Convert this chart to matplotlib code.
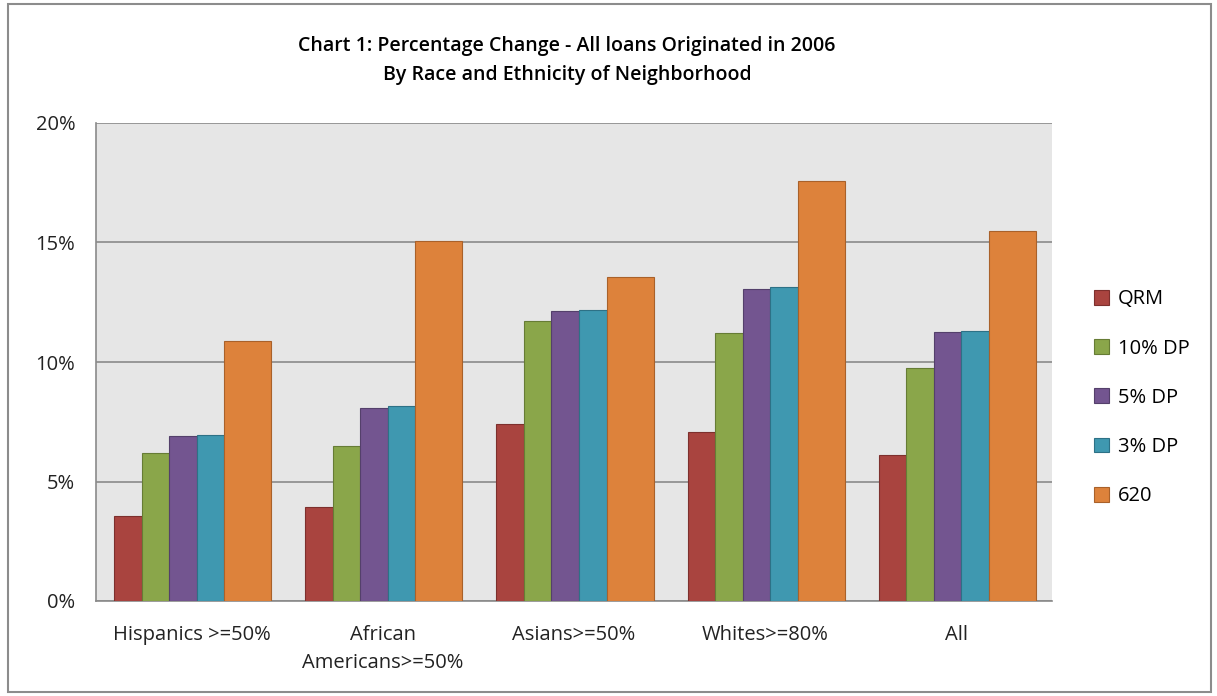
import numpy as np
import matplotlib.pyplot as plt
from matplotlib.patches import Rectangle

categories = ['Hispanics >=50%', 'African\nAmericans>=50%', 'Asians>=50%', 'Whites>=80%', 'All']
series = ['QRM', '10% DP', '5% DP', '3% DP', '620']
qrm = [3.56, 3.93, 7.41, 7.07, 6.11]
dp10 = [6.19, 6.49, 11.72, 11.21, 9.75]
dp5 = [6.90, 8.08, 12.13, 13.05, 11.26]
dp3 = [6.95, 8.16, 12.18, 13.14, 11.30]
fico620 = [10.88, 15.06, 13.56, 17.57, 15.48]
yticks = [0, 5, 10, 15, 20]
ytick_labels = ['0%', '5%', '10%', '15%', '20%']

colors = ['#A9443F', '#8AA64A', '#735590', '#3F98B0', '#DD823B']
edges = ['#7d302d', '#667c35', '#54406b', '#2d7186', '#a9612a']

plt.rcParams['font.family'] = ['Open Sans', 'DejaVu Sans']

fig = plt.figure(figsize=(12.17, 6.96), dpi=100)
fig.patches.append(Rectangle((8 / 1217, 4 / 696), 1203 / 1217, 688 / 696,
                             transform=fig.transFigure, fill=False,
                             edgecolor='#8c8c8c', linewidth=1.5))
ax = fig.add_axes([96 / 1217, 1 - 601 / 696, 956 / 1217, 478 / 696])
ax.set_facecolor('#e6e6e6')

x = np.arange(len(categories))
narrow = 0.144
wide = 0.246
start = -0.406
values = [qrm, dp10, dp5, dp3, fico620]
for i, (name, vals) in enumerate(zip(series, values)):
    w = wide if i == 4 else narrow
    left = start + narrow * i
    ax.bar(x + left, vals, width=w, align='edge', color=colors[i],
           edgecolor=edges[i], linewidth=0.8, label=name, zorder=3)

ax.set_xlim(-0.5, len(categories) - 0.5)
ax.set_ylim(0, 20)
ax.set_yticks(yticks)
ax.set_yticklabels(ytick_labels)
ax.set_xticks(x)
ax.set_xticklabels(categories, linespacing=1.55)
ax.yaxis.grid(True, color='#8a8a8a', linewidth=1.2, zorder=0)
ax.tick_params(axis='both', length=0, labelsize=14.5, colors='#222222')
ax.tick_params(axis='y', pad=15)
ax.tick_params(axis='x', pad=17)
for side in ['top', 'right']:
    ax.spines[side].set_visible(False)
for side in ['left', 'bottom']:
    ax.spines[side].set_color('#8a8a8a')
    ax.spines[side].set_linewidth(1.2)

fig.text(0.466, 1 - 46 / 696, 'Chart 1: Percentage Change - All loans Originated in 2006',
         ha='center', va='center', fontsize=14, fontweight='semibold')
fig.text(0.466, 1 - 75 / 696, 'By Race and Ethnicity of Neighborhood',
         ha='center', va='center', fontsize=14, fontweight='semibold')

ax.legend(loc='center left', bbox_to_anchor=(1.025, 0.425), frameon=False,
          fontsize=14.5, handlelength=0.75, handleheight=0.75, labelspacing=1.45,
          handletextpad=0.45)

fig.savefig('out.png', dpi=100)
